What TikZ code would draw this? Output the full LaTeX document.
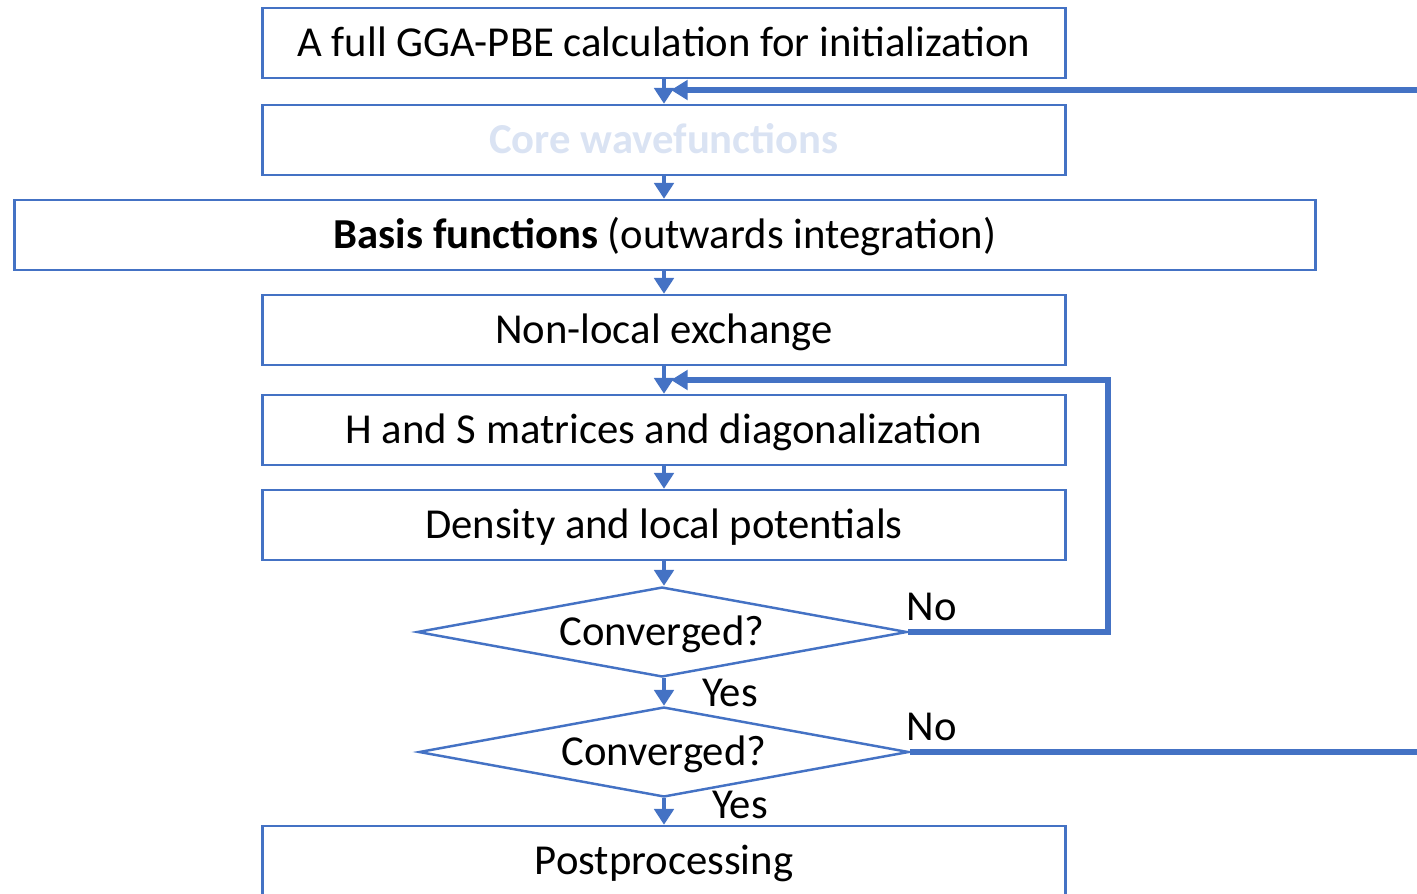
\documentclass[tikz,border=0pt]{standalone}
\usepackage{fontspec}
\setmainfont{Carlito}
\usepackage{xcolor}
\usepackage{tikz}
\usetikzlibrary{arrows.meta, shapes.geometric}

\definecolor{obl}{HTML}{4472C4}
\definecolor{corecol}{HTML}{DAE3F3}

\begin{document}
\begin{tikzpicture}[
      x=0.02cm, y=-0.02cm, font=\fontsize{24.3pt}{28pt}\selectfont,
      blk/.style={draw=obl, line width=1.4pt, minimum width=16.06cm, minimum height=1.4cm, inner sep=0pt, text height=20.6pt, text depth=5pt},
      wide/.style={blk, minimum width=26.02cm},
      cond/.style={draw=obl, line width=1.4pt, diamond, aspect=5.4, inner sep=0pt, minimum width=9.8cm, minimum height=1.8cm, text height=20.6pt, text depth=5pt},
      flow/.style={draw=obl, line width=2.2pt, -{Triangle[length=9pt, width=11pt]}},
      loop/.style={draw=obl, line width=3.2pt, -{Triangle[length=9.5pt, width=11pt]}}
    ]
    \clip (0,0) rectangle (1417,893);
    \foreach \n/\y/\t in {
      init/43/{A full GGA-PBE calculation for initialization},
      core/140/{\textcolor{corecol}{\textbf{Core wavefunctions}}},
      nloc/330/{Non-local exchange},
      hs/430/{H and S matrices and diagonalization},
      dens/525/{Density and local potentials},
      post/861/{Postprocessing}} {
      \node[blk] (\n) at (664,\y) {\t};
    }
    \node[wide] (basis) at (665,235) {\textbf{Basis functions} (outwards integration)};
    \node[cond] (c1) at (662,632) {Converged?};
    \node[cond] (c2) at (664,752) {Converged?};

    \foreach \a/\b in {init/core, core/basis, basis/nloc, nloc/hs, hs/dens, dens/c1, c1/c2, c2/post}
      \draw[flow] (\a.south -| 664,0) -- (\b.north -| 664,0);

    % inner loop back to H and S
    \coordinate (r1) at (1108,380);
    \coordinate (j1) at (671,380);
    \draw[loop] (c1.east) -| (r1) -- (j1);
    % outer loop back to core wavefunctions
    \coordinate (r2) at (1440,90);
    \coordinate (j2) at (671,90);
    \draw[loop] (c2.east) -| (r2) -- (j2);

    \node (no1) at (932,607) {No};
    \node (no2) at (932,727) {No};
    \node (yes1) at (730,693) {Yes};
    \node (yes2) at (740,805) {Yes};
  \end{tikzpicture}
\end{document}
